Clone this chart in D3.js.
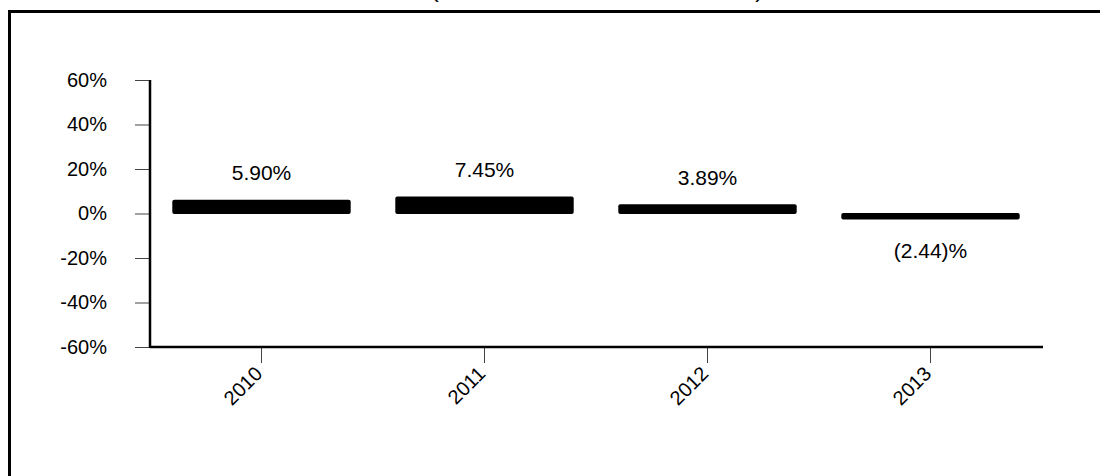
<!DOCTYPE html>
<html>
<head>
<meta charset="utf-8">
<script src="https://cdnjs.cloudflare.com/ajax/libs/d3/7.8.5/d3.min.js"></script>
<style>
  body { margin: 0; background: #fff; }
  svg { display: block; font-family: "Liberation Sans", Arial, sans-serif; }
</style>
</head>
<body>
<div id="chart"></div>
<script>
var years = ["2010", "2011", "2012", "2013"];
var growth = [5.90, 7.45, 3.89, -2.44];
var yTicks = [-60, -40, -20, 0, 20, 40, 60];
var title = "(ANNUAL PERCENT CHANGE)";

var W = 1100, H = 476;
var margin = {top: 80, left: 150},
  width = 892,
  height = 267;

var svg = d3.select("#chart").append("svg")
  .attr("width", W)
  .attr("height", H);

// frame round the chart, runs off the right and bottom edges
svg.append("rect")
  .attr("x", 9.5).attr("y", 11.5)
  .attr("width", 1200).attr("height", 600)
  .attr("fill", "none")
  .attr("stroke", "#000")
  .attr("stroke-width", 3);

// title sits above the window, only the bottom of it shows
svg.append("text")
  .attr("x", 597).attr("y", -2)
  .attr("text-anchor", "middle")
  .attr("font-size", 20)
  .attr("textLength", 332)
  .attr("lengthAdjust", "spacingAndGlyphs")
  .text(title);

var g = svg.append("g")
  .attr("transform", "translate(" + margin.left + "," + margin.top + ")");

var x = d3.scaleBand().domain(years).range([0, width]).paddingInner(0.2).paddingOuter(0.1);
var y = d3.scaleLinear().domain([-60, 60]).range([height, 0]);

// y axis
var yAxis = g.append("g")
  .call(d3.axisLeft(y).tickValues(yTicks).tickSize(15).tickPadding(28)
    .tickFormat(function(d) { return d + "%"; }));
yAxis.select(".domain").remove();
yAxis.selectAll(".tick line").attr("stroke", "#444").attr("stroke-width", 1);
yAxis.selectAll(".tick text").attr("font-size", 20).attr("fill", "#000")
  .attr("font-family", "Liberation Sans, Arial, sans-serif");

// x axis
var xAxis = g.append("g")
  .attr("transform", "translate(0," + height + ")")
  .call(d3.axisBottom(x).tickSize(16));
xAxis.select(".domain").remove();
xAxis.selectAll(".tick line").attr("stroke", "#444").attr("stroke-width", 1);
xAxis.selectAll(".tick text")
  .attr("font-size", 20).attr("fill", "#000")
  .attr("font-family", "Liberation Sans, Arial, sans-serif")
  .attr("text-anchor", "end")
  .attr("x", 0).attr("y", 0)
  .attr("dy", 0)
  .attr("transform", "translate(2,28) rotate(-45)");

// thick axis lines
g.append("line")
  .attr("x1", 0).attr("x2", 0).attr("y1", y(60)).attr("y2", y(-60) + 1)
  .attr("stroke", "#000").attr("stroke-width", 2.5);
g.append("line")
  .attr("x1", 0).attr("x2", width + 1).attr("y1", y(-60)).attr("y2", y(-60))
  .attr("stroke", "#000").attr("stroke-width", 2.5);

var data = years.map(function(d, i) { return {year: d, v: growth[i]}; });

g.selectAll(".bar")
  .data(data)
  .enter().append("rect")
  .attr("class", "bar")
  .attr("x", function(d) { return x(d.year); })
  .attr("width", x.bandwidth())
  .attr("y", function(d) { return y(Math.max(0, d.v)) - 0.5; })
  .attr("height", function(d) { return Math.abs(y(d.v) - y(0)) + 1; })
  .attr("rx", 2)
  .attr("fill", "#000");

function fmt(v) {
  return v < 0 ? "(" + Math.abs(v).toFixed(2) + ")%" : v.toFixed(2) + "%";
}

g.selectAll(".lbl")
  .data(data)
  .enter().append("text")
  .attr("class", "lbl")
  .attr("x", function(d) { return x(d.year) + x.bandwidth() / 2; })
  .attr("y", function(d) { return d.v >= 0 ? y(d.v) - 20 : y(d.v) + 39; })
  .attr("text-anchor", "middle")
  .attr("font-size", 21)
  .text(function(d) { return fmt(d.v); });
</script>
</body>
</html>
